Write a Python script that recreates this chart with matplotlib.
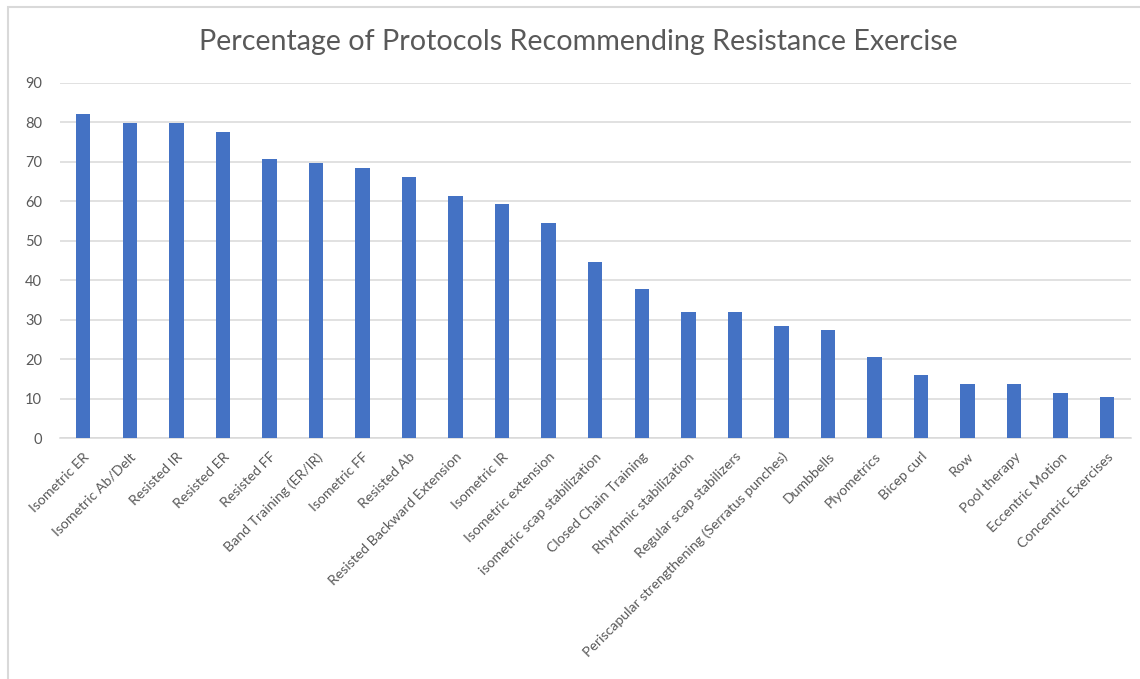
import matplotlib
matplotlib.use("Agg")
import matplotlib.pyplot as plt
from matplotlib.patches import Rectangle

plt.rcParams['font.family'] = ['Lato', 'DejaVu Sans']

categories = [
    "Isometric ER", "Isometric Ab/Delt", "Resisted IR", "Resisted ER",
    "Resisted FF", "Band Training (ER/IR)", "Isometric FF", "Resisted Ab",
    "Resisted Backward Extension", "Isometric IR", "Isometric extension",
    "isometric scap stabilization", "Closed Chain Training",
    "Rhythmic stabilization", "Regular scap stabilizers",
    "Periscapular strengthening (Serratus punches)", "Dumbbells",
    "Plyometrics", "Bicep curl", "Row", "Pool therapy",
    "Eccentric Motion", "Concentric Exercises",
]
percentages = [
    82.1, 79.8, 79.8, 77.6, 70.7, 69.6, 68.5, 66.1, 61.4, 59.2, 54.6,
    44.5, 37.7, 31.9, 31.9, 28.5, 27.3, 20.5, 15.9, 13.7, 13.7, 11.5, 10.3,
]
y_ticks = [0, 10, 20, 30, 40, 50, 60, 70, 80, 90]
title = "Percentage of Protocols Recommending Resistance Exercise"

W, H = 1140, 679
fig = plt.figure(figsize=(W / 100, H / 100), dpi=100)
fig.patch.set_facecolor("white")

# chart frame
fig.patches.append(Rectangle((7.5 / W, -0.1), 1.2, (H - 7.5) / H + 0.1,
                             transform=fig.transFigure, fill=False,
                             edgecolor="#D9D9D9", linewidth=1.5))

ax = fig.add_axes([60 / W, 1 - 438 / H, (1130.5 - 60) / W, (438 - 83) / H])
x = range(len(categories))
ax.bar(x, percentages, width=0.31, color="#4472C4", zorder=3)

ax.set_xlim(-0.5, len(categories) - 0.5)
ax.set_ylim(0, 90)
ax.set_yticks(y_ticks)
ax.set_yticklabels([str(v) for v in y_ticks], color="#595959", fontsize=10.5)
ax.yaxis.grid(True, color="#D9D9D9", linewidth=1.1, zorder=0)
ax.set_axisbelow(True)

ax.set_xticks(list(x))
ax.set_xticklabels(categories, rotation=45, ha="right", rotation_mode="anchor",
                   color="#595959", fontsize=10.2)
ax.tick_params(axis="both", length=0)
ax.tick_params(axis="x", pad=9)
ax.tick_params(axis="y", pad=13)

for side in ["top", "right", "left"]:
    ax.spines[side].set_visible(False)
ax.spines["bottom"].set_color("#D9D9D9")
ax.spines["bottom"].set_linewidth(1.1)

fig.text(578 / W, 1 - 42 / H, title, ha="center", va="center",
         fontsize=20.6, color="#595959")

fig.savefig("out.png", dpi=100)
